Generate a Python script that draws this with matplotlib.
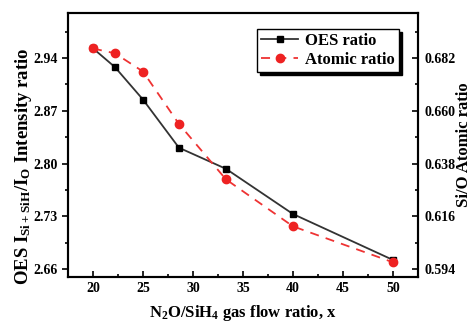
import matplotlib
matplotlib.use("Agg")
import matplotlib.pyplot as plt
from matplotlib.ticker import MultipleLocator, FixedLocator

flow_ratio = [20, 22.2, 25, 28.6, 33.3, 40, 50]
oes_ratio = [2.953, 2.928, 2.885, 2.821, 2.793, 2.733, 2.672]
atomic_ratio = [0.6860, 0.6840, 0.6764, 0.6545, 0.6314, 0.6118, 0.5968]

left_ticks = [2.66, 2.73, 2.80, 2.87, 2.94]
right_ticks = [0.594, 0.616, 0.638, 0.660, 0.682]
x_ticks = [20, 25, 30, 35, 40, 45, 50]

plt.rcParams['font.family'] = ['Liberation Serif', 'DejaVu Serif']
plt.rcParams['font.weight'] = 'bold'
plt.rcParams['mathtext.fontset'] = 'custom'
plt.rcParams['mathtext.rm'] = 'Liberation Serif:bold'
plt.rcParams['mathtext.it'] = 'Liberation Serif:bold'
plt.rcParams['mathtext.bf'] = 'Liberation Serif:bold'

fig = plt.figure(figsize=(4.75, 3.22), dpi=100)
ax = fig.add_axes([0.143, 0.140, 0.737, 0.820])
ax2 = ax.twinx()

l1, = ax.plot(flow_ratio, oes_ratio, color='#333333', lw=1.3, marker='s', ms=5,
              mfc='black', mec='black', label='OES ratio')
l2, = ax2.plot(flow_ratio, atomic_ratio, color='#ee3333', lw=1.3, ls=(0, (5, 4)), marker='o', ms=6,
               mfc='#ee2222', mec='#ee2222', label='Atomic ratio')

ax.set_xlim(17.5, 52.5)
ylo, yhi = 2.6495, 3.0
ax.set_ylim(ylo, yhi)
conv = lambda v: 0.594 + (v - 2.66) * (0.022 / 0.07)
ax2.set_ylim(conv(ylo), conv(yhi))

ax.set_xticks(x_ticks)
ax.xaxis.set_minor_locator(MultipleLocator(2.5))
ax.set_yticks(left_ticks)
ax.set_yticklabels([f"{v:.2f}" for v in left_ticks])
ax.yaxis.set_minor_locator(FixedLocator([2.695, 2.765, 2.835, 2.905, 2.975]))
ax2.set_yticks(right_ticks)
ax2.set_yticklabels([f"{v:.3f}" for v in right_ticks])
ax2.yaxis.set_minor_locator(FixedLocator([0.605, 0.627, 0.649, 0.671, 0.693]))

ax.tick_params(axis='x', which='both', direction='in', top=False, labelsize=10, width=1.2)
ax.tick_params(axis='x', which='major', length=4)
ax.tick_params(axis='x', which='minor', length=2.5)
ax.tick_params(axis='y', which='both', direction='out', right=False, labelsize=10, width=1.2)
ax.tick_params(axis='y', which='major', length=4)
ax.tick_params(axis='y', which='minor', length=2.5)
ax2.tick_params(axis='y', which='both', direction='in', labelsize=10, width=1.2)
ax2.tick_params(axis='y', which='major', length=4, pad=5)
ax2.tick_params(axis='y', which='minor', length=2.5)

for a in (ax, ax2):
    for s in a.spines.values():
        s.set_linewidth(1.5)

ax.set_xlabel(r'N$_2$O/SiH$_4$ gas flow ratio, x', fontsize=12, fontweight='bold', labelpad=6)
ax.set_ylabel(r'OES I$_{\mathrm{Si+SiH}}$/I$_\mathrm{O}$ Intensity ratio', fontsize=13.5, fontweight='bold')
ax.yaxis.set_label_coords(-0.097, 0.42)
ax2.set_ylabel('Si/O Atomic ratio', fontsize=12, fontweight='bold')
ax2.yaxis.set_label_coords(1.108, 0.50)

leg = ax.legend(handles=[l1, l2], loc='upper right', bbox_to_anchor=(0.945, 0.94),
                borderaxespad=0,
                fontsize=12, frameon=True, fancybox=False, shadow={'color': 'black', 'alpha': 1},
                borderpad=0.25, handlelength=2.2, handletextpad=0.4, labelspacing=0.2)
leg.get_frame().set_edgecolor('black')
leg.get_frame().set_linewidth(1.0)
for t in leg.get_texts():
    t.set_fontweight('bold')

fig.savefig('out.png', dpi=100)
